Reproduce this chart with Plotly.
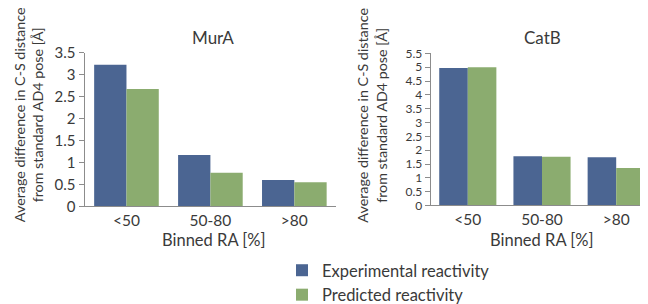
import plotly.graph_objects as go

categories = ["<50", "50-80", ">80"]
mura_experimental = [3.23, 1.17, 0.60]
mura_predicted = [2.68, 0.77, 0.55]
catb_experimental = [4.97, 1.78, 1.74]
catb_predicted = [5.00, 1.76, 1.36]
series_names = ["Experimental reactivity", "Predicted reactivity"]
panel_titles = ["MurA", "CatB"]
y_title = "Average difference in C-S distance<br>from standard AD4 pose [Å]"
x_title = "Binned RA [%]"

BLUE = "#4B6592"
GREEN = "#8BAC6F"
FONT = "Lato, Open Sans, sans-serif"
TXT = "#3a3a3a"
AX = "#8c8c8c"

fig = go.Figure()
fig.add_trace(go.Bar(x=categories, y=mura_experimental, name=series_names[0],
                     marker_color=BLUE, xaxis="x", yaxis="y", legendrank=1))
fig.add_trace(go.Bar(x=categories, y=mura_predicted, name=series_names[1],
                     marker_color=GREEN, xaxis="x", yaxis="y", legendrank=2))
fig.add_trace(go.Bar(x=categories, y=catb_experimental, name=series_names[0],
                     marker_color=BLUE, xaxis="x2", yaxis="y2", showlegend=False))
fig.add_trace(go.Bar(x=categories, y=catb_predicted, name=series_names[1],
                     marker_color=GREEN, xaxis="x2", yaxis="y2", showlegend=False))
fig.update_traces(marker_line_width=0)

W, H = 648, 304
def px(x):
    return x / W
def py(y):
    return 1 - y / H

xcommon = dict(showline=True, linecolor=AX, linewidth=1, ticks="", showgrid=False,
               tickfont=dict(family=FONT, size=15.5, color=TXT), zeroline=False)
ycommon = dict(showline=True, linecolor=AX, linewidth=1, ticks="outside", ticklen=5,
               tickcolor=AX, showgrid=False, zeroline=False, dtick=0.5)

fig.update_layout(
    width=W, height=H,
    margin=dict(l=0, r=0, t=0, b=0),
    paper_bgcolor="white", plot_bgcolor="white",
    barmode="group", bargap=0.23, bargroupgap=0,
    font=dict(family=FONT, color=TXT),
    xaxis=dict(domain=[px(76.5), px(328.3)], anchor="y", **xcommon),
    yaxis=dict(domain=[py(207.5), py(38.5)], anchor="x", range=[0, 3.5],
               tickfont=dict(family=FONT, size=15, color=TXT), **ycommon),
    xaxis2=dict(domain=[px(422.7), px(645.3)], anchor="y2", **xcommon),
    yaxis2=dict(domain=[py(206.5), py(39)], anchor="x2", range=[0, 5.5],
                tickfont=dict(family=FONT, size=12, color=TXT), **ycommon),
    legend=dict(x=px(274), y=py(259), xanchor="left", yanchor="top",
                font=dict(family=FONT, size=16.5, color=TXT), bgcolor="rgba(0,0,0,0)",
                tracegroupgap=0),
    showlegend=True,
)

ann = []
for title, cx in zip(panel_titles, [205, 534]):
    ann.append(dict(text=title, x=px(cx), y=py(21.5), xref="paper", yref="paper",
                    showarrow=False, xanchor="center", yanchor="middle",
                    font=dict(family=FONT, size=17, color=TXT)))
for cx in [205.5, 534]:
    ann.append(dict(text=x_title, x=px(cx), y=py(244.5), xref="paper", yref="paper",
                    showarrow=False, xanchor="center", yanchor="middle",
                    font=dict(family=FONT, size=16.5, color=TXT)))
for cx in [21, 364.5]:
    ann.append(dict(text=y_title, x=px(cx), y=py(107), xref="paper", yref="paper",
                    showarrow=False, xanchor="center", yanchor="middle", textangle=-90,
                    font=dict(family=FONT, size=14.3, color=TXT)))
fig.update_layout(annotations=ann)

fig.write_html("out.html")
